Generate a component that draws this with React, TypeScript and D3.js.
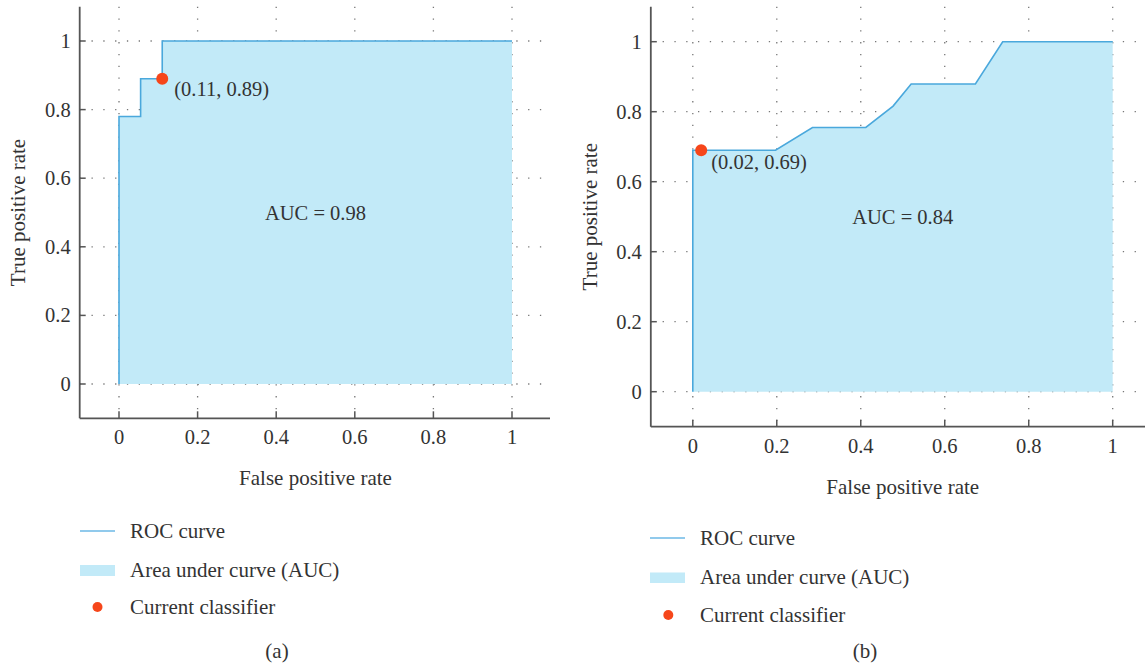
import React from "react";
import * as d3 from "d3";

const ticks = [0, 0.2, 0.4, 0.6, 0.8, 1];
const tickLabels = ["0", "0.2", "0.4", "0.6", "0.8", "1"];

const rocA_fpr = [0, 0, 0.055, 0.055, 0.11, 0.11, 1];
const rocA_tpr = [0, 0.78, 0.78, 0.89, 0.89, 1, 1];
const rocB_fpr = [0, 0, 0.197, 0.285, 0.412, 0.477, 0.52, 0.673, 0.738, 1];
const rocB_tpr = [0, 0.69, 0.69, 0.755, 0.755, 0.816, 0.879, 0.879, 1, 1];

const classifierA = [0.11, 0.89];
const classifierB = [0.02, 0.69];
const aucA = "AUC = 0.98";
const aucB = "AUC = 0.84";
const legendItems = ["ROC curve", "Area under curve (AUC)", "Current classifier"];

const FONT = "'Liberation Serif', 'DejaVu Serif', serif";
const TXT = "#333";
const LINE = "#4aa8dc";
const FILL = "#c2eaf8";
const DOT = "#f6461a";
const AX = "#555";

type PanelProps = {
  fpr: number[];
  tpr: number[];
  cls: number[];
  auc: string;
  tag: string;
  x0: number; x1: number; y0: number; y1: number;
  xRight: number;
  yAxisTitleX: number;
  xTitleY: number;
  labelDx: number; labelDy: number;
  legX: number; legY: number[]; dotX: number; tagX: number; tagY: number;
  legRect: number[];
};

function Panel(p: PanelProps) {
  const x = d3.scaleLinear().domain([0, 1]).range([p.x0, p.x1]);
  const y = d3.scaleLinear().domain([0, 1]).range([p.y0, p.y1]);
  const xl = x(-0.1);
  const yb = y(-0.1);
  const yt = y(1.1);
  const pts = p.fpr.map((f, i) => [f, p.tpr[i]] as [number, number]);
  const area = d3.area<[number, number]>().x(d => x(d[0])).y0(y(0)).y1(d => y(d[1]))(pts.concat([[1, 0]]));
  const line = d3.line<[number, number]>().x(d => x(d[0])).y(d => y(d[1]))(pts);
  const fs = 21;
  const tfs = 20.5;
  return (
    <g fontFamily={FONT} fill={TXT}>
      {ticks.map((t, i) => (
        <line key={"vx" + i} x1={x(t)} x2={x(t)} y1={yt} y2={yb} stroke="#777" strokeWidth={1.3} strokeDasharray="1.3,10.5" />
      ))}
      {ticks.map((t, i) => (
        <line key={"hy" + i} x1={xl} x2={p.xRight} y1={y(t)} y2={y(t)} stroke="#777" strokeWidth={1.3} strokeDasharray="1.3,10.5" />
      ))}
      <path d={area || ""} fill={FILL} stroke="none" />
      <path d={line || ""} fill="none" stroke={LINE} strokeWidth={1.6} />
      <circle cx={x(p.cls[0])} cy={y(p.cls[1])} r={6} fill={DOT} />
      <text x={x(p.cls[0]) + p.labelDx} y={y(p.cls[1]) + p.labelDy} fontSize={tfs} dominantBaseline="central">
        ({p.cls[0].toFixed(2)}, {p.cls[1].toFixed(2)})
      </text>
      <text x={x(0.5)} y={y(0.5)} fontSize={tfs} textAnchor="middle" dominantBaseline="central">{p.auc}</text>
      <line x1={xl} x2={xl} y1={yt} y2={yb} stroke={AX} strokeWidth={1.8} />
      <line x1={xl} x2={p.xRight} y1={yb} y2={yb} stroke={AX} strokeWidth={1.8} />
      {ticks.map((t, i) => (
        <g key={"xt" + i}>
          <line x1={x(t)} x2={x(t)} y1={yb} y2={yb - 7} stroke={AX} strokeWidth={1.5} />
          <text x={x(t)} y={yb + 19} fontSize={tfs} textAnchor="middle" dominantBaseline="central">{tickLabels[i]}</text>
        </g>
      ))}
      {ticks.map((t, i) => (
        <g key={"yt" + i}>
          <line x1={xl} x2={xl + 6} y1={y(t)} y2={y(t)} stroke={AX} strokeWidth={1.5} />
          <text x={xl - 9} y={y(t)} fontSize={tfs} textAnchor="end" dominantBaseline="central">{tickLabels[i]}</text>
        </g>
      ))}
      <text x={x(0.5)} y={p.xTitleY} fontSize={fs} textAnchor="middle" dominantBaseline="central">False positive rate</text>
      <text transform={`translate(${p.yAxisTitleX},${y(0.5)}) rotate(-90)`} fontSize={fs} textAnchor="middle" dominantBaseline="central">True positive rate</text>
      <line x1={p.legX} x2={p.legX + 35} y1={p.legY[0]} y2={p.legY[0]} stroke="#6cb8e6" strokeWidth={1.6} />
      <rect x={p.legX} y={p.legRect[0]} width={35} height={p.legRect[1]} fill={FILL} />
      <circle cx={p.dotX} cy={p.legY[2]} r={5} fill={DOT} />
      {legendItems.map((s, i) => (
        <text key={"lg" + i} x={p.legX + 50} y={p.legY[i]} fontSize={fs} dominantBaseline="central">{s}</text>
      ))}
      <text x={p.tagX} y={p.tagY} fontSize={fs} textAnchor="middle" dominantBaseline="central">{p.tag}</text>
    </g>
  );
}

export default function App() {
  return (
    <svg width={1145} height={664} style={{ position: "absolute", left: 0, top: 0, background: "#fff" }}>
      <Panel fpr={rocA_fpr} tpr={rocA_tpr} cls={classifierA} auc={aucA} tag="(a)"
        x0={119} x1={512} y0={384} y1={41} xRight={550} yAxisTitleX={18} xTitleY={478}
        labelDx={12} labelDy={10}
        legX={80} legY={[531, 570, 607]} legRect={[565, 11]} dotX={97.5} tagX={277} tagY={651} />
      <Panel fpr={rocB_fpr} tpr={rocB_tpr} cls={classifierB} auc={aucB} tag="(b)"
        x0={692.8} x1={1112.7} y0={391.7} y1={41.7} xRight={1145} yAxisTitleX={590} xTitleY={487}
        labelDx={10} labelDy={12}
        legX={650} legY={[538, 577, 615]} legRect={[572.5, 10.5]} dotX={668.3} tagX={865} tagY={651} />
    </svg>
  );
}
